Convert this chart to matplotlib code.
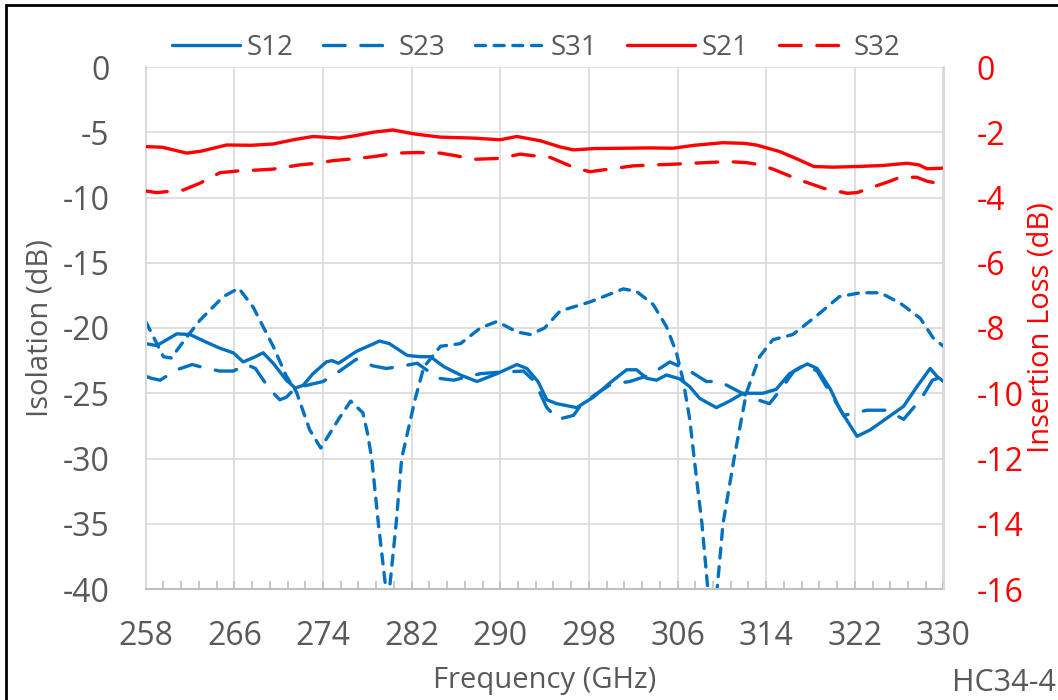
import numpy as np
import matplotlib
matplotlib.use('Agg')
import matplotlib.pyplot as plt
from matplotlib.patches import Rectangle

plt.rcParams['font.family'] = ['Open Sans', 'DejaVu Sans']
plt.rcParams['axes.unicode_minus'] = False

# isolation curves (left axis, dB)
s12_f = [258.0, 259.0, 260.8, 262.0, 263.5, 264.7, 265.9, 266.8, 267.9, 268.6, 269.5, 270.7,
         271.5, 272.2, 273.1, 274.3, 274.8, 275.4, 277.0, 279.1, 280.0, 281.6, 282.8, 283.7,
         284.9, 286.4, 287.9, 289.7, 291.5, 292.4, 293.4, 294.2, 295.1, 296.3, 296.9, 298.4,
         299.9, 301.4, 302.3, 303.2, 304.1, 305.0, 306.2, 307.1, 308.0, 309.5, 310.7, 311.9,
         313.7, 314.9, 316.1, 317.7, 318.6, 319.8, 320.7, 322.2, 323.4, 324.9, 326.4, 327.6,
         328.8, 329.4, 330.0]
s12 = [-21.2, -21.35, -20.45, -20.5, -21.1, -21.55, -21.9, -22.6, -22.2, -21.9, -22.7, -24.0,
       -24.6, -24.4, -23.5, -22.6, -22.5, -22.7, -21.8, -21.0, -21.2, -22.1, -22.2, -22.2,
       -22.96, -23.6, -24.1, -23.5, -22.8, -23.1, -24.1, -25.5, -25.8, -26.0, -26.1, -25.3,
       -24.2, -23.2, -23.2, -23.85, -24.0, -23.6, -23.9, -24.5, -25.4, -26.1, -25.6, -25.0,
       -25.0, -24.7, -23.5, -22.75, -23.1, -24.7, -26.3, -28.3, -27.8, -26.9, -26.0, -24.5,
       -23.1, -23.7, -24.1]

s23_f = [258.0, 258.5, 259.3, 260.8, 262.2, 263.5, 264.7, 265.9, 267.1, 267.9, 268.3, 269.2,
         270.1, 270.7, 271.5, 274.0, 275.5, 277.0, 278.5, 279.7, 280.9, 282.5, 284.4, 285.8,
         288.2, 289.7, 292.1, 293.1, 294.2, 295.2, 296.6, 297.2, 298.4, 300.0, 301.7, 303.5,
         305.3, 307.1, 308.6, 309.8, 310.7, 312.5, 314.3, 315.5, 316.5, 317.5, 318.6, 319.8,
         321.0, 323.1, 324.9, 326.4, 328.0, 329.0, 330.0]
s23 = [-23.7, -23.85, -24.0, -23.2, -22.8, -23.1, -23.3, -23.3, -22.8, -23.1, -23.6, -24.7,
       -25.5, -25.3, -24.6, -24.1, -23.3, -22.4, -22.9, -23.1, -22.96, -22.7, -23.85, -24.0,
       -23.5, -23.4, -23.3, -24.1, -26.1, -27.0, -26.7, -26.0, -25.2, -24.3, -24.1, -23.6,
       -22.6, -23.3, -24.1, -24.1, -24.5, -25.3, -25.8, -24.5, -23.3, -22.8, -23.3, -25.0,
       -26.7, -26.3, -26.3, -27.0, -25.4, -24.0, -23.7]

s31_f = [258.0, 259.6, 260.3, 261.7, 262.9, 265.0, 266.4, 267.7, 269.5, 270.7, 271.6, 272.8,
         273.8, 275.4, 276.5, 277.6, 278.0, 278.4, 279.0, 279.85, 280.6, 281.1, 282.3, 283.1,
         284.6, 286.4, 288.2, 289.7, 291.5, 292.7, 294.0, 295.4, 298.1, 301.1, 302.3, 303.8,
         305.0, 305.9, 306.5, 307.1, 307.5, 308.2, 309.15, 310.1, 311.1, 312.2, 313.4, 314.6,
         316.4, 318.5, 320.6, 322.5, 324.3, 326.1, 327.9, 329.1, 330.0]
s31 = [-19.5, -22.2, -22.3, -20.7, -19.4, -17.6, -16.95, -18.4, -21.4, -23.7, -24.9, -27.8,
       -29.2, -27.0, -25.6, -26.5, -28.0, -30.0, -35.0, -41.3, -35.0, -30.0, -25.5, -23.0,
       -21.4, -21.2, -20.0, -19.5, -20.3, -20.5, -20.0, -18.7, -18.0, -17.0, -17.2, -18.2,
       -19.9, -21.9, -24.0, -27.0, -30.0, -35.0, -44.0, -35.0, -30.0, -25.0, -22.2, -20.9,
       -20.5, -19.1, -17.6, -17.3, -17.3, -18.1, -19.25, -20.8, -21.4]

# insertion loss curves (right axis, dB)
s21_f = [258.0, 259.5, 261.7, 263.0, 265.3, 267.5, 269.5, 271.5, 273.1, 275.5, 277.0, 278.5,
         280.3, 282.2, 284.6, 287.6, 290.0, 291.5, 293.6, 295.4, 296.6, 298.5, 301.1, 303.5,
         305.6, 307.5, 310.1, 312.0, 313.1, 315.2, 316.8, 318.3, 320.0, 322.2, 324.5, 326.7,
         327.8, 328.5, 330.0]
s21 = [-2.44, -2.46, -2.64, -2.58, -2.39, -2.40, -2.36, -2.22, -2.13, -2.18, -2.10, -2.00,
       -1.93, -2.05, -2.15, -2.18, -2.23, -2.13, -2.26, -2.45, -2.54, -2.50, -2.49, -2.48,
       -2.49, -2.40, -2.32, -2.34, -2.39, -2.59, -2.82, -3.05, -3.07, -3.05, -3.02, -2.95,
       -3.00, -3.12, -3.10]

s32_f = [258.0, 259.0, 261.4, 262.9, 264.7, 266.5, 268.0, 269.5, 271.9, 273.5, 274.9, 276.5,
         278.5, 280.7, 282.5, 284.6, 286.0, 287.6, 290.0, 291.8, 293.0, 294.5, 295.4, 296.8,
         298.1, 300.0, 302.0, 304.0, 305.6, 308.6, 310.5, 312.2, 313.5, 314.6, 317.0, 319.2,
         321.3, 322.2, 323.7, 325.0, 326.1, 327.6, 328.5, 329.1, 330.0]
s32 = [-3.80, -3.85, -3.77, -3.56, -3.24, -3.18, -3.16, -3.13, -3.00, -2.95, -2.87, -2.82,
       -2.75, -2.64, -2.62, -2.64, -2.72, -2.83, -2.80, -2.67, -2.72, -2.77, -2.90, -3.10,
       -3.21, -3.12, -3.03, -3.00, -2.98, -2.93, -2.90, -2.93, -3.00, -3.13, -3.46, -3.72,
       -3.87, -3.85, -3.67, -3.52, -3.38, -3.38, -3.50, -3.54, -3.64]

x_ticks = [258, 266, 274, 282, 290, 298, 306, 314, 322, 330]
left_ticks = [0, -5, -10, -15, -20, -25, -30, -35, -40]
right_ticks = [0, -2, -4, -6, -8, -10, -12, -14, -16]

blue = '#0070C0'
red = '#FF0000'
grey = '#595959'
lw = 2.4

fig = plt.figure(figsize=(10.58, 7.0), dpi=100)
ax = fig.add_axes([145.7 / 1058, 1 - 589 / 700, (943.5 - 145.7) / 1058, 522 / 700])
ax2 = ax.twinx()

l1, = ax.plot(s12_f, s12, color=blue, lw=lw, label='S12', solid_capstyle='round')
l2, = ax.plot(s23_f, s23, color=blue, lw=lw, label='S23', dashes=(6.5, 4.7), dash_capstyle='round')
l3, = ax.plot(s31_f, s31, color=blue, lw=lw, label='S31', dashes=(3.0, 2.6), dash_capstyle='round')
l4, = ax2.plot(s21_f, s21, color=red, lw=lw, label='S21', solid_capstyle='round')
l5, = ax2.plot(s32_f, s32, color=red, lw=lw, label='S32', dashes=(6.5, 4.7), dash_capstyle='round')

ax.set_xlim(258, 330)
ax.set_ylim(-40, 0)
ax2.set_ylim(-16, 0)
ax.set_xticks(x_ticks)
ax.set_xticks(np.arange(258, 330.01, 1.6), minor=True)
ax.set_yticks(left_ticks)
ax2.set_yticks(right_ticks)

ax.grid(True, which='major', color='#D9D9D9', lw=1.2)
ax.set_axisbelow(True)

for a in (ax, ax2):
    for s in a.spines.values():
        s.set_visible(False)
ax.spines['bottom'].set_visible(True)
ax.spines['bottom'].set_color('#BFBFBF')
ax.spines['bottom'].set_linewidth(1.5)
ax.spines['left'].set_visible(True)
ax.spines['left'].set_color('#D9D9D9')
ax.spines['left'].set_linewidth(1.5)
ax2.spines['right'].set_visible(True)
ax2.spines['right'].set_color('#D9D9D9')
ax2.spines['right'].set_linewidth(1.5)

ax.tick_params(axis='x', which='both', direction='in', length=6, width=1.2, color='#BFBFBF',
               labelsize=23, labelcolor=grey, pad=22)
ax.tick_params(axis='y', length=0, labelsize=23, labelcolor=grey, pad=26)
ax2.tick_params(axis='y', length=0, labelsize=23, labelcolor=red, pad=24)

ax.set_xlabel('Frequency (GHz)', fontsize=21, color=grey, labelpad=10)
ax.set_ylabel('Isolation (dB)', fontsize=21, color=grey, labelpad=6)
ax2.set_ylabel('Insertion Loss (dB)', fontsize=21, color=red, labelpad=2)

fig.legend(handles=[l1, l2, l3, l4, l5], loc='center', bbox_to_anchor=(536 / 1058, 1 - 48 / 700),
           ncol=5, frameon=False, fontsize=20, labelcolor=grey, handlelength=2.45,
           handletextpad=0.25, columnspacing=1.08, borderpad=0)

fig.text(1056 / 1058, 9 / 700, 'HC34-4', ha='right', va='baseline', fontsize=22, color=grey)

fig.patches.append(Rectangle((6 / 1058, -0.02), 1.1, 1 - 4.5 / 700 + 0.02, transform=fig.transFigure,
                             fill=False, edgecolor='black', lw=2.0, figure=fig))

fig.savefig('out.png', dpi=100)
